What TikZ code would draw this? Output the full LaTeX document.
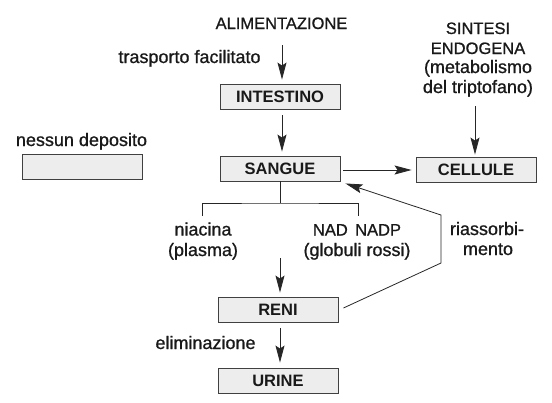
\documentclass[tikz,border=0pt]{standalone}
\usepackage{fontspec}
\setmainfont{Liberation Sans}
\newfontfamily\medfont[FakeBold=0.9]{Liberation Sans}
\usetikzlibrary{arrows.meta}
\begin{document}
\begin{tikzpicture}[x=1pt,y=-1pt,
  box/.style={draw=black!75, fill=black!7, line width=0.9pt, minimum width=120pt, minimum height=25pt, inner sep=0pt, text=black!90, font=\fontsize{16.5}{20}\selectfont\bfseries},
  caps/.style={inner sep=0pt, anchor=base, text=black!90, font=\fontsize{16.5}{20}\selectfont\medfont},
  lower/.style={inner sep=0pt, anchor=base, text=black!90, font=\fontsize{18}{21}\selectfont\medfont},
  conn/.style={line width=0.8pt, draw=black!85},
  arr/.style={conn, -{Stealth[length=17pt,width=9pt,inset=3pt]}},
]
\useasboundingbox (0,0) rectangle (552,402);

% boxes
\node[box] (intestino) at (280,96.5) {INTESTINO};
\node[box] (sangue) at (280,168.5) {SANGUE};
\node[box] (deposito) at (82,166.5) {};
\node[box] (cellule) at (476,169.5) {CELLULE};
\node[box] (reni) at (278,309.5) {RENI};
\node[box] (urine) at (278,380.5) {URINE};

% texts
\node[caps] (alim) at (281.5,29) {ALIMENTAZIONE};
\node[lower] (trasp) at (189.5,63) {trasporto facilitato};
\node[lower] (nessun) at (81.5,146) {nessun deposito};
\node[caps] (sint1) at (478,34) {SINTESI};
\node[caps] (sint2) at (478,54) {ENDOGENA};
\node[lower] (sint3) at (478,73) {(metabolismo};
\node[lower] (sint4) at (478,93) {del triptofano)};
\node[lower] (niac1) at (203,235.5) {niacina};
\node[lower] (niac2) at (203,256) {(plasma)};
\node[caps] (nad1) at (357,235.5) {NAD\hspace{0.45em}NADP};
\node[lower] (nad2) at (357,256) {(globuli rossi)};
\node[lower] (rias1) at (487,235) {riassorbi-};
\node[lower] (rias2) at (488,255) {mento};
\node[lower] (elim) at (205.5,349) {eliminazione};

% connectors
\coordinate (a1s) at (282,45);
\draw[arr, shorten >=4pt] (a1s) -- (a1s |- intestino.north);
\draw[arr, shorten <=6pt, shorten >=4pt] ([xshift=2pt]intestino.south) -- ([xshift=2pt]sangue.north);
\draw[arr, shorten <=9.5pt, shorten >=2pt] ([xshift=-3pt]sint4.south) -- ([xshift=-1pt]cellule.north);
\draw[arr, shorten <=3pt, shorten >=4pt] ([yshift=-1.5pt]sangue.east) -- ([yshift=-1.5pt]sangue.east -| cellule.west);

\coordinate (bj) at (280,203);
\coordinate (bl) at (202,216);
\coordinate (br) at (358,216);
\draw[conn] (sangue.south) -- (bj);
\draw[conn] (bl) |- (bj) -| (br);

\coordinate (a5s) at (280,258);
\draw[arr, shorten >=4pt] (a5s) -- (a5s |- reni.north);
\draw[arr, shorten <=6pt, shorten >=5pt] ([xshift=2pt]reni.south) -- ([xshift=2pt]urine.north);

\coordinate (r1) at (441,263);
\coordinate (r2) at (441,215);
\draw[arr] ([shift={(5pt,1.5pt)}]reni.east) -- (r1) -- (r2) -- ([shift={(5pt,-2pt)}]sangue.south east);
\end{tikzpicture}
\end{document}
